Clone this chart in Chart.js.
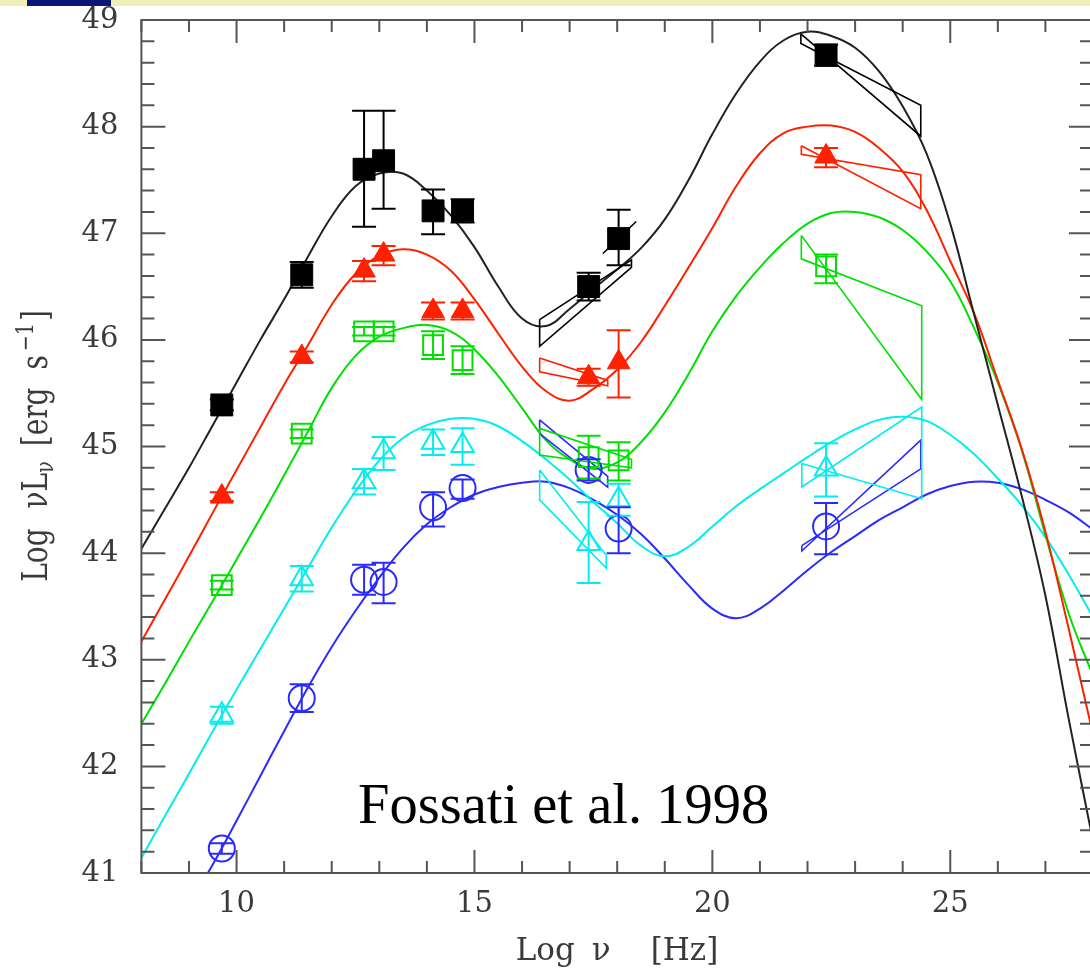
<!DOCTYPE html>
<html>
<head>
<meta charset="utf-8">
<title>Blazar SED sequence</title>
<script src="https://cdn.jsdelivr.net/npm/chart.js@4.4.0/dist/chart.umd.min.js"></script>
<style>
  html, body { margin: 0; padding: 0; background: #fff; width: 1090px; height: 973px; overflow: hidden; position: relative; }
  canvas { position: absolute; left: 0; top: 0; filter: blur(0.5px); }
  #band { position: absolute; left: 0; top: 0; width: 1090px; height: 6px; background: #f2eebc; }
  #badge { position: absolute; left: 27px; top: 0; width: 84px; height: 6px; background: #0b1677; }
  #ref { position: absolute; left: 358px; top: 776px; font: 56.5px/1 'Liberation Serif', 'Times New Roman', serif; color: #000; white-space: nowrap; }
</style>
</head>
<body>
<canvas id="sed" width="1100" height="973"></canvas>
<div id="band"></div><div id="badge"></div>
<div id="ref">Fossati et al. 1998</div>
<script>
// observing bands (log nu): radio, mm, far-IR, IR, optical, UV, soft X, hard X, gamma
const bandNu = [9.69, 11.37, 12.68, 13.09, 14.13, 14.75, 17.40, 18.03, 22.39];

// averaged luminosities per luminosity bin (log nuLnu)
const lumBlack = [45.39, 46.61, 47.60, 47.68, 47.21, 47.21, 46.50, 46.95, 48.67];
const lumRed   = [44.53, 45.84, 46.65, 46.80, 46.27, 46.27, 45.65, 45.79, 47.72];
const lumGreen = [43.70, 45.12, 46.08, 46.08, 45.95, 45.81, 44.90, 44.87, 46.69];
const lumCyan  = [42.48, 43.76, 44.67, 44.95, 45.04, 45.01, 44.09, 44.50, 44.79];
const lumBlue  = [41.23, 42.64, 43.75, 43.73, 44.43, 44.61, 44.78, 44.23, 44.25];

// error bars (down / up)
const errBlackLo = [0.05, 0.12, 0.54, 0.45, 0.22, 0.11, 0.13, 0.25, 0.10];
const errBlackHi = [0.05, 0.12, 0.55, 0.47, 0.20, 0.11, 0.13, 0.27, 0.10];
const errRedLo   = [0.04, 0.05, 0.10, 0.10, 0.08, 0.08, 0.08, 0.33, 0.10];
const errRedHi   = [0.04, 0.05, 0.09, 0.08, 0.08, 0.08, 0.08, 0.30, 0.08];
const errGreenLo = [0.04, 0.04, 0.04, 0.04, 0.13, 0.13, 0.20, 0.19, 0.16];
const errGreenHi = [0.04, 0.04, 0.04, 0.04, 0.13, 0.13, 0.20, 0.17, 0.11];
const errCyanLo  = [0.08, 0.12, 0.12, 0.17, 0.12, 0.18, 0.37, 0.15, 0.26];
const errCyanHi  = [0.08, 0.12, 0.12, 0.14, 0.12, 0.16, 0.39, 0.15, 0.24];
const errBlueLo  = [0.05, 0.13, 0.14, 0.20, 0.18, 0.10, 0.10, 0.23, 0.26];
const errBlueHi  = [0.05, 0.13, 0.14, 0.18, 0.14, 0.08, 0.10, 0.20, 0.22];

// parametric SED models, sampled every half decade in frequency
const modelNu = [8.0, 8.5, 9.0, 9.5, 10.0, 10.5, 11.0, 11.5, 12.0, 12.5, 13.0, 13.5, 14.0, 14.5, 15.0, 15.5, 16.0, 16.5, 17.0, 17.5,
                 18.0, 18.5, 19.0, 19.5, 20.0, 20.5, 21.0, 21.5, 22.0, 22.5, 23.0, 23.5, 24.0, 24.5, 25.0, 25.5, 26.0, 26.5, 27.0, 27.5, 28.0];
const modelBlack = [44.04, 44.42, 44.80, 45.20, 45.60, 46.00, 46.38, 46.78, 47.16, 47.44, 47.56, 47.56, 47.40, 47.17, 46.87, 46.50, 46.20, 46.13, 46.29, 46.48,
                    46.66, 46.86, 47.13, 47.50, 47.93, 48.31, 48.61, 48.81, 48.89, 48.85, 48.74, 48.52, 48.19, 47.75, 47.09, 46.24, 45.39, 44.54, 43.60, 42.42, 41.30];
const modelRed   = [43.17, 43.57, 43.97, 44.38, 44.78, 45.18, 45.58, 45.95, 46.33, 46.62, 46.79, 46.85, 46.80, 46.65, 46.38, 46.06, 45.75, 45.52, 45.43, 45.54,
                    45.72, 45.98, 46.32, 46.68, 47.05, 47.44, 47.75, 47.94, 48.00, 48.01, 47.95, 47.80, 47.58, 47.22, 46.74, 46.25, 45.62, 44.98, 44.20, 43.27, 42.30];
const modelGreen = [42.40, 42.78, 43.17, 43.55, 43.94, 44.33, 44.73, 45.14, 45.55, 45.85, 46.03, 46.11, 46.14, 46.08, 45.91, 45.66, 45.36, 45.06, 44.88, 44.79,
                    44.85, 45.04, 45.32, 45.68, 46.08, 46.41, 46.68, 46.91, 47.09, 47.19, 47.20, 47.15, 47.03, 46.83, 46.55, 46.11, 45.60, 44.97, 44.17, 43.42, 42.85];
const modelCyan  = [41.14, 41.54, 41.93, 42.33, 42.72, 43.10, 43.48, 43.86, 44.24, 44.58, 44.87, 45.08, 45.20, 45.26, 45.26, 45.19, 45.05, 44.88, 44.69, 44.48,
                    44.28, 44.07, 43.97, 44.06, 44.25, 44.44, 44.60, 44.75, 44.90, 45.04, 45.16, 45.25, 45.28, 45.24, 45.11, 44.93, 44.70, 44.45, 44.15, 43.79, 43.40];
const modelBlue  = [null, null, 40.70, 41.08, 41.49, 41.91, 42.33, 42.74, 43.12, 43.46, 43.77, 44.05, 44.27, 44.43, 44.55, 44.62, 44.66, 44.67, 44.61, 44.50,
                    44.36, 44.18, 43.95, 43.70, 43.48, 43.39, 43.48, 43.65, 43.84, 44.01, 44.16, 44.31, 44.43, 44.55, 44.63, 44.67, 44.66, 44.60, 44.50, 44.38, 44.22];

// X-ray and gamma-ray spectral "bow ties" (outline vertices)
const xrayBlack  = [[16.37,46.19],[18.30,46.75],[18.30,46.68],[16.37,45.94],[16.37,46.19]];
const xrayBlack2 = [[17.70,46.81],[18.40,47.11]];
const gammaBlack = [[21.86,48.87],[24.38,47.91],[24.38,48.20],[21.86,48.78],[21.86,48.87]];
const xrayRed    = [[16.37,45.83],[17.80,45.62],[17.80,45.57],[16.37,45.70],[16.37,45.83]];
const gammaRed   = [[21.87,47.82],[24.38,47.23],[24.38,47.55],[21.87,47.74],[21.87,47.82]];
const xrayGreen  = [[16.37,45.17],[18.30,44.88],[18.30,44.80],[16.37,44.92],[16.37,45.17]];
const gammaGreen = [[21.87,46.98],[24.40,45.44],[24.40,46.32],[21.87,46.76],[21.87,46.98]];
const xrayCyan   = [[16.37,44.78],[17.77,43.98],[17.77,43.86],[16.37,44.50],[16.37,44.78]];
const gammaCyan  = [[21.88,44.84],[24.40,44.51],[24.40,45.37],[21.88,44.62],[21.88,44.84]];
const xrayBlue   = [[16.37,45.25],[17.80,44.72],[17.80,44.62],[16.37,45.12],[16.37,45.25]];
const gammaBlue  = [[21.88,44.07],[24.38,44.79],[24.38,45.06],[21.88,44.02],[21.88,44.07]];

const xTickVals = [10, 15, 20, 25];
const yTickVals = [41, 42, 43, 44, 45, 46, 47, 48, 49];

const BLACK = '#000000', RED = '#ff2000', GREEN = '#00e000', CYAN = '#00eeee', BLUE = '#2a2aff';

const toXY = arr => arr.map(p => ({ x: p[0], y: p[1] }));
const obs = lum => lum.map((v, i) => ({ x: bandNu[i], y: v }));
const model = lum => lum.map((v, i) => ({ x: modelNu[i], y: v })).filter(p => p.y !== null);

function markerSet(lum, lo, hi, color, style, radius, filled) {
  return {
    data: obs(lum), errLo: lo, errHi: hi,
    pointStyle: style, pointRadius: radius,
    pointBackgroundColor: filled ? color : 'rgba(0,0,0,0)',
    pointBorderColor: color, pointBorderWidth: filled ? 1 : 2,
    borderColor: color, showLine: false
  };
}

function curveSet(lum, color) {
  return {
    data: model(lum), showLine: true, borderColor: color, borderWidth: 2,
    pointRadius: 0, tension: 0.4, fill: false
  };
}

function bowSet(pts, color) {
  return { data: toXY(pts), showLine: true, borderColor: color, borderWidth: 1.6, pointRadius: 0, tension: 0, fill: false };
}

// vertical error bars with caps, placed through the scales
const errorBars = {
  id: 'errorBars',
  afterDatasetsDraw(chart) {
    const { ctx, scales: { x, y } } = chart;
    ctx.save();
    ctx.lineWidth = 2;
    chart.data.datasets.forEach(ds => {
      if (!ds.errLo) return;
      ctx.strokeStyle = ds.borderColor;
      ctx.beginPath();
      ds.data.forEach((p, i) => {
        const px = x.getPixelForValue(p.x);
        const top = y.getPixelForValue(p.y + ds.errHi[i]);
        const bot = y.getPixelForValue(p.y - ds.errLo[i]);
        ctx.moveTo(px, top); ctx.lineTo(px, bot);
        ctx.moveTo(px - 12, top); ctx.lineTo(px + 12, top);
        ctx.moveTo(px - 12, bot); ctx.lineTo(px + 12, bot);
      });
      ctx.stroke();
    });
    ctx.restore();
  }
};

function drawPieces(ctx, pieces) {
  let total = 0;
  pieces.forEach(p => {
    if (p.gap) { total += p.gap; return; }
    ctx.font = p.font;
    p.w = ctx.measureText(p.t).width;
    total += p.w;
  });
  let cx = -total / 2;
  pieces.forEach(p => {
    if (p.gap) { cx += p.gap; return; }
    ctx.font = p.font;
    ctx.fillText(p.t, cx, p.dy || 0);
    cx += p.w;
  });
}

// boxed frame with inward ticks on all sides, plus axis titles
const frame = {
  id: 'frame',
  afterDraw(chart) {
    const { ctx, chartArea: a, scales: { x, y } } = chart;
    ctx.save();
    ctx.strokeStyle = '#555';
    ctx.lineWidth = 2;
    ctx.strokeRect(a.left, a.top, a.right - a.left, a.bottom - a.top);
    ctx.beginPath();
    for (let v = 8; v <= 28; v++) {
      const px = x.getPixelForValue(v);
      const len = v % 5 === 0 ? 23 : 12;
      ctx.moveTo(px, a.bottom); ctx.lineTo(px, a.bottom - len);
      ctx.moveTo(px, a.top); ctx.lineTo(px, a.top + len);
    }
    for (let k = 0; k <= 40; k++) {
      const py = y.getPixelForValue(41 + k * 0.2);
      const len = k % 5 === 0 ? 24 : 13;
      ctx.moveTo(a.left, py); ctx.lineTo(a.left + len, py);
      ctx.moveTo(a.right, py); ctx.lineTo(a.right - len, py);
    }
    ctx.stroke();

    ctx.fillStyle = '#3a3a3a';
    ctx.textBaseline = 'alphabetic';
    ctx.textAlign = 'left';
    const big = "31px 'DejaVu Serif'";

    // x title
    ctx.save();
    ctx.translate(617, 960);
    drawPieces(ctx, [
      { t: 'Log', font: big }, { gap: 17 }, { t: '\u03BD', font: big }, { gap: 40 }, { t: '[Hz]', font: big }
    ]);
    ctx.restore();

    // y title
    ctx.save();
    ctx.translate(47, 446);
    ctx.rotate(-Math.PI / 2);
    ctx.scale(1, 1.25);
    const yf = "28px 'DejaVu Serif'";
    const ys = "19px 'DejaVu Serif'";
    drawPieces(ctx, [
      { t: 'Log', font: yf }, { gap: 20 }, { t: '\u03BDL', font: yf }, { t: '\u03BD', font: ys, dy: 5 },
      { gap: 15 }, { t: '[erg', font: yf }, { gap: 18 }, { t: 's', font: yf }, { gap: 4 },
      { t: '\u22121', font: ys, dy: -11 }, { gap: 2 }, { t: ']', font: yf }
    ]);
    ctx.restore();
    ctx.restore();
  }
};

const tickFont = { family: 'DejaVu Serif', size: 29 };

new Chart(document.getElementById('sed'), {
  type: 'scatter',
  data: {
    datasets: [
      markerSet(lumBlack, errBlackLo, errBlackHi, BLACK, 'rect', 15.5, true),
      markerSet(lumRed, errRedLo, errRedHi, RED, 'triangle', 13, true),
      markerSet(lumGreen, errGreenLo, errGreenHi, GREEN, 'rect', 14, false),
      markerSet(lumCyan, errCyanLo, errCyanHi, CYAN, 'triangle', 13, false),
      markerSet(lumBlue, errBlueLo, errBlueHi, BLUE, 'circle', 13, false),
      bowSet(xrayBlack, BLACK), bowSet(xrayBlack2, BLACK), bowSet(gammaBlack, BLACK),
      bowSet(xrayRed, RED), bowSet(gammaRed, RED),
      bowSet(xrayGreen, GREEN), bowSet(gammaGreen, GREEN),
      bowSet(xrayCyan, CYAN), bowSet(gammaCyan, CYAN),
      bowSet(xrayBlue, BLUE), bowSet(gammaBlue, BLUE),
      curveSet(modelBlack, '#222'), curveSet(modelRed, RED), curveSet(modelGreen, GREEN),
      curveSet(modelCyan, CYAN), curveSet(modelBlue, BLUE)
    ]
  },
  options: {
    responsive: false,
    animation: false,
    devicePixelRatio: 1,
    layout: { padding: { left: 0, right: 7, top: 20, bottom: 0 }, autoPadding: false },
    scales: {
      x: {
        type: 'linear', min: 8, max: 28,
        afterFit: s => { s.height = 100; s.paddingLeft = 0; s.paddingRight = 0; },
        afterBuildTicks: s => { s.ticks = xTickVals.map(v => ({ value: v })); },
        grid: { display: false, drawTicks: false },
        border: { display: false },
        ticks: { font: tickFont, color: '#3a3a3a', padding: 14, maxRotation: 0 }
      },
      y: {
        type: 'linear', min: 41, max: 49,
        afterFit: s => { s.width = 141.4; s.paddingTop = 0; s.paddingBottom = 0; },
        afterBuildTicks: s => { s.ticks = yTickVals.map(v => ({ value: v })); },
        grid: { display: false, drawTicks: false },
        border: { display: false },
        ticks: { font: tickFont, color: '#3a3a3a', padding: 23 }
      }
    },
    plugins: { legend: { display: false }, tooltip: { enabled: false } }
  },
  plugins: [errorBars, frame]
});
</script>
</body>
</html>
